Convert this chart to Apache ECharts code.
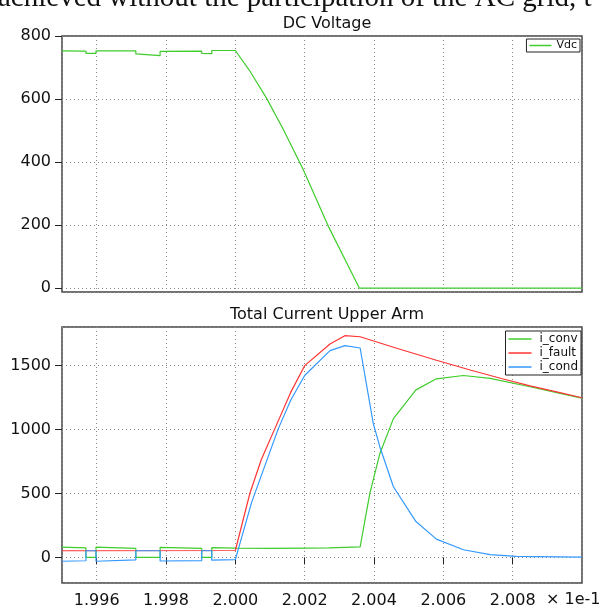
<!DOCTYPE html>
<html>
<head>
<meta charset="utf-8">
<script src="https://cdn.jsdelivr.net/npm/echarts@6/dist/echarts.min.js"></script>
<style>html,body{margin:0;padding:0;background:#fff;}#c{width:607px;height:613px;}</style>
</head>
<body>
<div id="c"></div>
<script>
// ---- data (time in units of 1e-1 s, as on the axis) ----
const vdcT = [1.9950, 1.99569, 1.99569, 1.99598, 1.99598, 1.99713, 1.99713, 1.99783, 1.99783, 1.99903, 1.99903, 1.99932, 1.99932, 2.0000, 2.0004, 2.0009, 2.0014, 2.00196, 2.00268, 2.00358, 2.0100];
const vdcV = [753, 752, 745, 745, 753, 753, 743, 738, 751, 752, 745, 744, 754, 754, 692, 603, 500, 376, 197, 0, 0];

const convT = [1.9950, 1.99569, 1.99569, 1.99598, 1.99598, 1.99713, 1.99713, 1.99783, 1.99783, 1.99903, 1.99903, 1.99932, 1.99932, 2.0000, 2.0010, 2.0020, 2.0027, 2.0036, 2.00388, 2.00417, 2.00456, 2.00521, 2.0058, 2.00658, 2.00735, 2.0085, 2.0093, 2.0100];
const convV = [80, 75, 0, 0, 80, 70, 0, 0, 78, 70, 0, 0, 76, 72, 70, 73, 75, 83, 501, 812, 1084, 1309, 1395, 1421, 1398, 1333, 1286, 1245];

const faultT = [1.9950, 2.0000, 2.00042, 2.00075, 2.00114, 2.0016, 2.0020, 2.00273, 2.00316, 2.0036, 2.0047, 2.0058, 2.0068, 2.0077, 2.0085, 2.0093, 2.0100];
const faultV = [52, 54, 501, 765, 1006, 1291, 1498, 1667, 1732, 1724, 1630, 1540, 1462, 1396, 1340, 1291, 1247];

const condT = [1.9950, 1.99569, 1.99569, 1.99598, 1.99598, 1.99713, 1.99713, 1.99783, 1.99783, 1.99903, 1.99903, 1.99932, 1.99932, 2.0000, 2.00047, 2.00124, 2.0016, 2.0020, 2.00273, 2.00316, 2.0036, 2.00398, 2.00417, 2.00456, 2.00521, 2.0058, 2.00658, 2.00735, 2.0081, 2.0100];
const condV = [-30, -26, 52, 52, -30, -20, 52, 52, -28, -25, 52, 52, -22, -18, 430, 1006, 1230, 1421, 1615, 1654, 1636, 1045, 863, 552, 280, 143, 60, 21, 8, 2];

const titles = ['DC Voltage', 'Total Current Upper Arm'];
const xUnitLabel = '\u00d7 1e-1';
const topText = 'achieved without the participation of the AC grid, t';

const colConv = '#3fcc2c', colFault = '#ff3333', colCond = '#3399ff';

function pairs(t, v) { return t.map((x, i) => [x, v[i]]); }

const FONT = 'DejaVu Sans';
const chart = echarts.init(document.getElementById('c'), null, {renderer: 'canvas'});

const splitLine = {show: true, lineStyle: {color: '#8a8a8a', type: [1, 3], width: 1}};
function xAxis(gi, labels) {
  return {
    type: 'value', gridIndex: gi, min: 1.995, max: 2.010, splitNumber: 7,
    minInterval: 0.002, maxInterval: 0.002,
    axisLine: {show: false},
    axisTick: {show: labels, length: 7, inside: false, lineStyle: {color: '#222', width: 1}},
    axisLabel: {show: labels, showMinLabel: false, showMaxLabel: false, margin: 10,
      color: '#111', fontFamily: FONT, fontSize: 16,
      formatter: v => v.toFixed(3)},
    splitLine: splitLine
  };
}
function yAxis(gi, min, max, step) {
  return {
    type: 'value', gridIndex: gi, min: min, max: max, minInterval: step, maxInterval: step,
    axisLine: {show: false},
    axisTick: {show: true, length: 7, lineStyle: {color: '#222', width: 1}},
    axisLabel: {showMinLabel: false, showMaxLabel: max % step === 0, margin: 11,
      color: '#111', fontFamily: FONT, fontSize: 16,
      formatter: v => String(Math.round(v))},
    splitLine: splitLine
  };
}

const option = {
  animation: false,
  backgroundColor: '#fff',
  title: [
    {text: titles[0], left: 322, textAlign: 'center', top: 11,
      textStyle: {fontFamily: FONT, fontSize: 16, fontWeight: 'normal', color: '#111'}},
    {text: titles[1], left: 322, textAlign: 'center', top: 302,
      textStyle: {fontFamily: FONT, fontSize: 16, fontWeight: 'normal', color: '#111'}}
  ],
  grid: [
    {left: 62, right: 25, top: 36, height: 256, show: true, borderColor: '#444', borderWidth: 1.5, backgroundColor: 'transparent'},
    {left: 62, right: 25, top: 327, height: 256, show: true, borderColor: '#444', borderWidth: 1.5, backgroundColor: 'transparent'}
  ],
  xAxis: [xAxis(0, false), xAxis(1, true)],
  yAxis: [yAxis(0, -12, 800, 200), yAxis(1, -200, 1800, 500)],
  legend: [
    {data: ['Vdc'], right: 27, top: 39, orient: 'vertical', backgroundColor: '#fff',
      borderColor: '#222', borderWidth: 1, borderRadius: 0, padding: [1, 3, 1, 3],
      itemWidth: 22, itemHeight: 1.5, icon: 'rect', itemGap: 2,
      textStyle: {fontFamily: FONT, fontSize: 11, color: '#111', width: 26, align: 'right'}},
    {data: ['i_conv', 'i_fault', 'i_cond'], right: 26, top: 331, orient: 'vertical', backgroundColor: '#fff',
      borderColor: '#222', borderWidth: 1, borderRadius: 0, padding: [2, 3, 2, 3],
      itemWidth: 23, itemHeight: 1.5, icon: 'rect', itemGap: 2,
      textStyle: {fontFamily: FONT, fontSize: 12, color: '#111', width: 40, padding: [0, 0, 0, 3]}}
  ],
  graphic: [
    {type: 'text', left: 546, top: 592, style: {text: xUnitLabel, font: '16px "DejaVu Sans"', fill: '#111'}},
    {type: 'text', x: -2, y: -16, style: {text: topText, font: '29px "Liberation Serif"', fill: '#111', verticalAlign: 'top'}}
  ],
  series: [
    {name: 'Vdc', type: 'line', xAxisIndex: 0, yAxisIndex: 0, data: pairs(vdcT, vdcV), showSymbol: false,
      lineStyle: {color: colConv, width: 1.2}, itemStyle: {color: colConv}},
    {name: 'i_conv', type: 'line', xAxisIndex: 1, yAxisIndex: 1, data: pairs(convT, convV), showSymbol: false,
      lineStyle: {color: colConv, width: 1.2}, itemStyle: {color: colConv}},
    {name: 'i_fault', type: 'line', xAxisIndex: 1, yAxisIndex: 1, data: pairs(faultT, faultV), showSymbol: false,
      lineStyle: {color: colFault, width: 1.2}, itemStyle: {color: colFault}},
    {name: 'i_cond', type: 'line', xAxisIndex: 1, yAxisIndex: 1, data: pairs(condT, condV), showSymbol: false,
      lineStyle: {color: colCond, width: 1.2}, itemStyle: {color: colCond}}
  ]
};
chart.setOption(option);
</script>
</body>
</html>
